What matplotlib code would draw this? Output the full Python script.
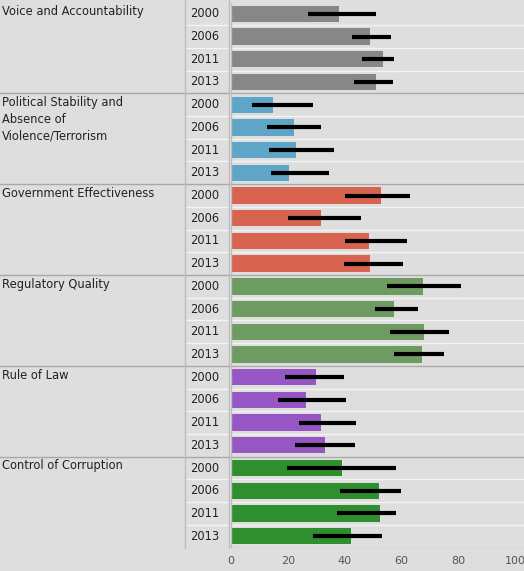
import matplotlib
matplotlib.use("Agg")
import matplotlib.pyplot as plt
import matplotlib.transforms as mtransforms

categories = ["Voice and Accountability",
              "Political Stability and\nAbsence of\nViolence/Terrorism",
              "Government Effectiveness", "Regulatory Quality",
              "Rule of Law", "Control of Corruption"]
years = ["2000", "2006", "2011", "2013"]
values = [[37.9, 48.7, 53.3, 51.0],
          [14.9, 22.2, 23.0, 20.5],
          [52.8, 31.7, 48.6, 48.8],
          [67.4, 57.3, 67.8, 67.0],
          [29.9, 26.4, 31.5, 33.0],
          [39.0, 52.0, 52.4, 42.1]]
err_low = [[27.0, 42.5, 46.1, 43.2],
           [7.4, 12.7, 13.4, 14.0],
           [40.1, 20.0, 39.9, 39.7],
           [55.0, 50.6, 56.0, 57.2],
           [19.0, 16.4, 23.8, 22.5],
           [19.6, 38.3, 37.3, 28.8]]
err_high = [[51.0, 56.2, 57.4, 56.9],
            [29.0, 31.6, 36.2, 34.5],
            [63.0, 45.8, 61.8, 60.3],
            [80.9, 65.8, 76.6, 74.9],
            [39.6, 40.6, 44.0, 43.5],
            [58.0, 59.6, 58.0, 53.2]]
colors = ["#878787", "#5ea5c8", "#d8644f", "#6e9b62", "#9657c4", "#2f8f2f"]

W, H = 524, 571
fig = plt.figure(figsize=(W/100, H/100), dpi=100)
fig.patch.set_facecolor("#dedede")
ax = fig.add_axes([231/W, 1-547.5/H, (W-231)/W, (547.5-2.5)/H])
ax.set_facecolor("#dedede")
ax.set_xlim(0, 103)
ax.set_ylim(23.5, -0.5)

row = 0
for g, cat in enumerate(categories):
    for k, yr in enumerate(years):
        v = values[g][k]
        ax.barh(row, v, height=0.72, color=colors[g], zorder=2)
        ax.plot([err_low[g][k], err_high[g][k]], [row, row], color="black", lw=3, zorder=3, solid_capstyle="butt")
        ax.axhline(row+0.5, color="#f4f4f4", lw=1, zorder=1)
        row += 1

trans = mtransforms.blended_transform_factory(fig.transFigure, ax.transData)
for g, cat in enumerate(categories):
    y0 = g*4 - 0.5
    ax.text(2/W, y0 + 0.12, cat, transform=trans, ha="left", va="top", fontsize=8.3, color="#222222", linespacing=1.35)
    for k, yr in enumerate(years):
        ax.text(190/W, g*4+k, yr, transform=trans, ha="left", va="center", fontsize=8.3, color="#222222")
    if g > 0:
        ax.plot([0, 1], [y0, y0], transform=trans, color="#a8a8a8", lw=1, clip_on=False)
for x in [185/W, 229/W]:
    fig.add_artist(plt.Line2D([x, x], [1-547.5/H, 1], transform=fig.transFigure, color="#bdbdbd", lw=1))
# light separators between year rows in the label column
for r in range(24):
    if r % 4 != 0:
        ax.plot([185/W, 229/W], [r-0.5, r-0.5], transform=trans, color="#f4f4f4", lw=1, clip_on=False)

ax.set_xticks([0, 20, 40, 60, 80, 100])
ax.tick_params(axis="x", length=0, labelsize=8, labelcolor="#555555", pad=6)
ax.set_yticks([])
for s in ax.spines.values():
    s.set_visible(False)
ax.axvline(0, color="#bdbdbd", lw=1)
ax.axhline(23.5, color="#a8a8a8", lw=1)

fig.savefig("out.png", dpi=100, facecolor=fig.get_facecolor())
